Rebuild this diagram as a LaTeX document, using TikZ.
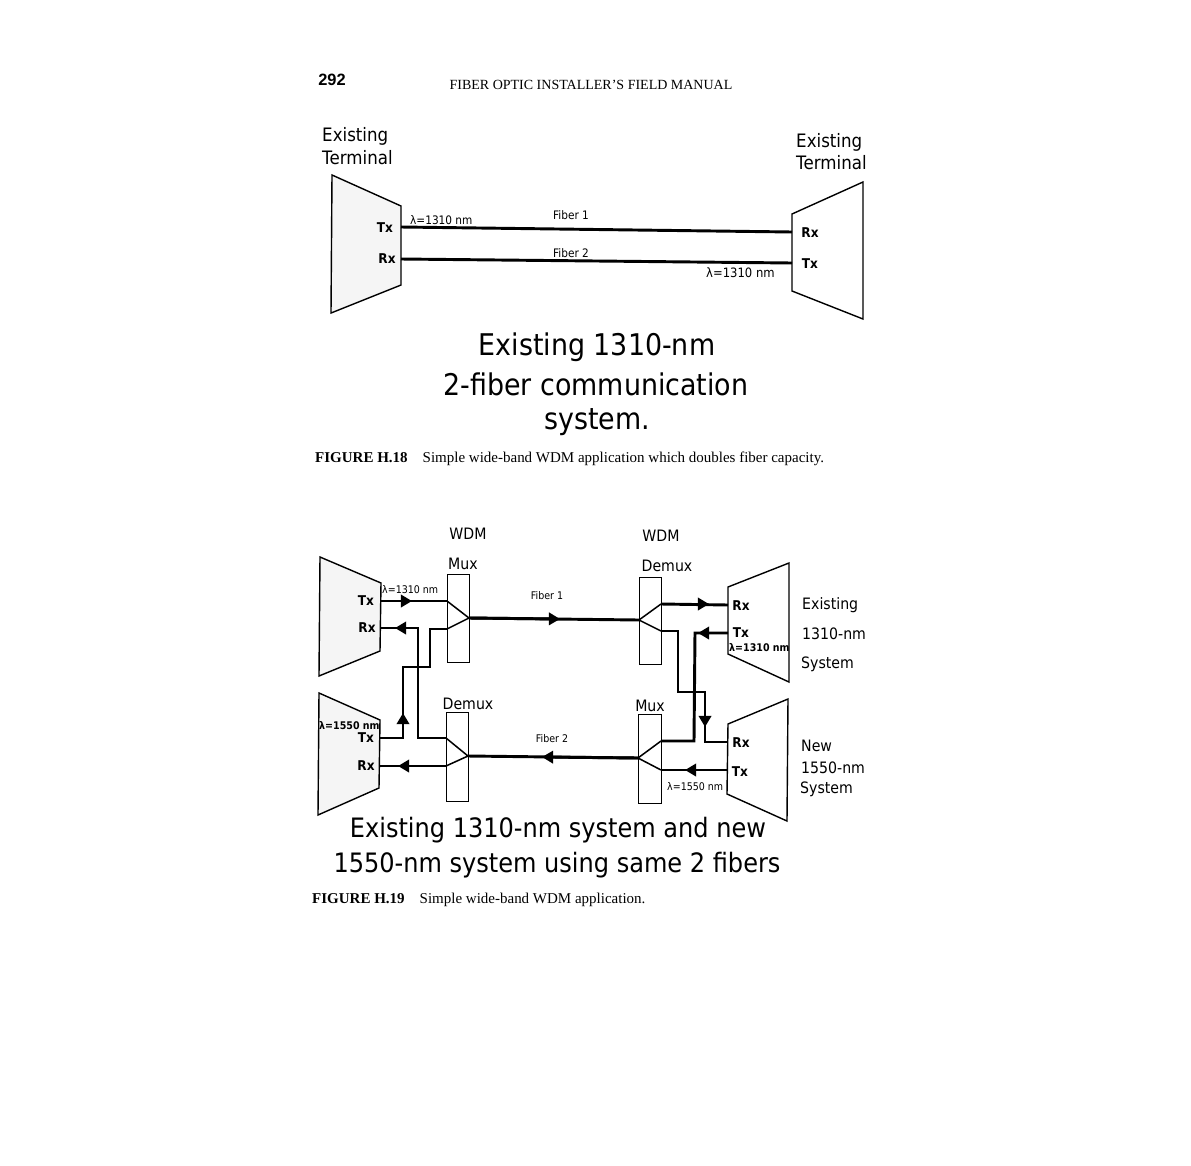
\documentclass[tikz,border=0pt]{standalone}
\usepackage{fontspec}
\setmainfont{Liberation Serif}
\newfontfamily\labelfont[FakeStretch=0.9]{DejaVu Sans}
\newfontfamily\headfont{Liberation Sans}
\usetikzlibrary{arrows.meta}
\tikzset{
  wire/.style={line width=2.5pt,line join=miter},
  thinwire/.style={line width=1.3pt},
  tipwire/.style={line width=2.5pt,-{Triangle[length=9.5pt,width=10.5pt]}},
  term/.style={draw=black,line width=1.2pt,line join=miter},
  stip/.style={term,fill=black!4},
  wdmbox/.style={draw=black,line width=0.8pt},
  bigtxt/.style={font=\labelfont\fontsize{25.5}{25.5}\selectfont,inner sep=0pt},
  lowtxt/.style={font=\labelfont\fontsize{22.8}{22.8}\selectfont,inner sep=0pt},
  medtxt/.style={font=\labelfont\fontsize{15.8}{15.8}\selectfont,inner sep=0pt},
  smltxt/.style={font=\labelfont\fontsize{13.4}{13.4}\selectfont,inner sep=0pt},
  lamtxt/.style={font=\labelfont\fontsize{9}{9}\selectfont,inner sep=0pt},
  boldtxt/.style={font=\labelfont\bfseries\fontsize{11.5}{11.5}\selectfont,inner sep=0pt},
  lamb/.style={font=\labelfont\bfseries\fontsize{9}{9}\selectfont,inner sep=0pt},
  captxt/.style={font=\fontsize{12.8}{12.8}\selectfont,inner sep=0pt,anchor=west},
}
\begin{document}
\begin{tikzpicture}[x=0.03cm,y=-0.03cm]
  \useasboundingbox (0,0) rectangle (1191,1166);
  \fill[white] (0,0) rectangle (1191,1166);
  % page head
  \node[inner sep=0pt,font=\headfont\bfseries\fontsize{14}{14}\selectfont] (pageno) at (332,80) {292};
  \node[inner sep=0pt,font=\fontsize{11.95}{11.95}\selectfont] (pagehead) at (591,85) {FIBER OPTIC INSTALLER'S FIELD MANUAL};

  % upper figure, terminals
  \draw[stip] (332,175) -- (401,206) -- (401,285) -- (331,313) -- cycle;
  \draw[term] (863,182) -- (792,214) -- (792,291) -- (863,319) -- cycle;
  \coordinate (txL) at (401,227);
  \coordinate (rxL) at (401,259);
  \coordinate (rxR) at (792,232);
  \coordinate (txR) at (792,263);
  \draw[wire] (txL) -- (rxR);
  \draw[wire] (rxL) -- (txR);
  \node[medtxt,anchor=west] (existL) at (322,136) {Existing};
  \node[medtxt,anchor=west] (termL) at (322,158) {Terminal};
  \node[medtxt,anchor=west] (existR) at (796,142) {Existing};
  \node[medtxt,anchor=west] (termR) at (796,163) {Terminal};
  \node[boldtxt] (txtxL) at (385,228) {Tx};
  \node[boldtxt] (txrxL) at (387,259) {Rx};
  \node[boldtxt] (txrxR) at (810,233) {Rx};
  \node[boldtxt] (txtxR) at (810,264) {Tx};
  \node[lamtxt,anchor=west,font=\labelfont\fontsize{10}{10}\selectfont] (lamA) at (410,220) {λ=1310 nm};
  \node[lamtxt,anchor=west,font=\labelfont\fontsize{11}{11}\selectfont] (lamB) at (706,273) {λ=1310 nm};
  \node[lamtxt,font=\labelfont\fontsize{10}{10}\selectfont] (fibA) at (571,215) {Fiber 1};
  \node[lamtxt,font=\labelfont\fontsize{10}{10}\selectfont] (fibB) at (571,253) {Fiber 2};
  \node[bigtxt] (titleA) at (597,347) {Existing 1310-nm};
  \node[bigtxt] (titleB) at (596,384) {2-fiber communication};
  \node[bigtxt] (titleC) at (597,422) {system.};
  \node[captxt] (capA) at (315,459) {\textbf{FIGURE H.18}\hspace{1em}Simple wide-band WDM application which doubles fiber capacity.};

  % lower figure, terminals
  \draw[stip] (320,557) -- (381,583) -- (380,651) -- (319,676) -- cycle;
  \draw[stip] (319,693) -- (380,720) -- (379,788) -- (318,815) -- cycle;
  \draw[term] (789,563) -- (728,587) -- (728,654) -- (789,682) -- cycle;
  \draw[term] (788,699) -- (728,724) -- (727,794) -- (787,821) -- cycle;
  % WDM boxes
  \draw[wdmbox] (447,574) rectangle (469,662);
  \draw[wdmbox] (446,712) rectangle (468,801);
  \draw[wdmbox] (639,577) rectangle (661,664);
  \draw[wdmbox] (638,714) rectangle (661,803);

  % ports
  \coordinate (muxIa) at (447,601);
  \coordinate (muxIb) at (447,629);
  \coordinate (muxO) at (469,618);
  \coordinate (dmxIa) at (446,738);
  \coordinate (dmxIb) at (446,766);
  \coordinate (dmxO) at (468,756);
  \coordinate (rdmxO) at (639,620);
  \coordinate (rdmxIa) at (661,604);
  \coordinate (rdmxIb) at (661,631);
  \coordinate (rmuxO) at (638,758);
  \coordinate (rmuxIa) at (661,741);
  \coordinate (rmuxIb) at (661,770);
  \coordinate (txA) at (381,601);
  \coordinate (rxA) at (381,628);
  \coordinate (txB) at (380,738);
  \coordinate (rxB) at (380,766);
  \coordinate (rxC) at (728,605);
  \coordinate (txC) at (728,633);
  \coordinate (rxD) at (728,742);
  \coordinate (txD) at (727,770);
  % arrow tips
  \coordinate (tipA) at (412,601);
  \coordinate (tipB) at (395,628);
  \coordinate (tipC) at (403,713);
  \coordinate (tipD) at (398,766);
  \coordinate (tipE) at (560,619);
  \coordinate (tipF) at (542,757);
  \coordinate (tipG) at (709,604);
  \coordinate (tipH) at (698,633);
  \coordinate (tipI) at (705,727);
  \coordinate (tipJ) at (685,770);

  % fan lines in the boxes
  \draw[thinwire] (muxIa) -- (muxO) -- (muxIb);
  \draw[thinwire] (dmxIa) -- (dmxO) -- (dmxIb);
  \draw[thinwire] (rdmxIa) -- (rdmxO) -- (rdmxIb);
  \draw[thinwire] (rmuxIa) -- (rmuxO) -- (rmuxIb);

  % fibers
  \draw[wire] (muxO) -- (rdmxO);
  \draw[wire] (dmxO) -- (rmuxO);
  \draw[tipwire] (muxO) -- (tipE);
  \draw[tipwire] (rmuxO) -- (tipF);

  % left side wires
  \draw[wire] (txA) -- (muxIa);
  \draw[tipwire] (txA) -- (tipA);
  \draw[wire] (rxA) -- (418,628) -- (418,738) -- (dmxIa);
  \draw[tipwire] (418,628) -- (tipB);
  \draw[wire] (txB) -- (403,738) -- (403,667) -- (430,667) -- (430,629) -- (muxIb);
  \draw[tipwire] (403,738) -- (tipC);
  \draw[wire] (dmxIb) -- (rxB);
  \draw[tipwire] (dmxIb) -- (tipD);

  % right side wires
  \draw[wire] (rdmxIa) -- (rxC);
  \draw[tipwire] (rdmxIa) -- (tipG);
  \draw[wire] (rdmxIb) -- (678,631) -- (678,692) -- (705,692) -- (705,742) -- (rxD);
  \draw[tipwire] (705,692) -- (tipI);
  \draw[wire] (txC) -- (695,633) -- (694,741) -- (rmuxIa);
  \draw[tipwire] (txC) -- (tipH);
  \draw[wire] (txD) -- (rmuxIb);
  \draw[tipwire] (txD) -- (tipJ);

  % lower figure, texts
  \node[smltxt] (wdmA) at (468,534) {WDM};
  \node[smltxt] (wdmB) at (661,536) {WDM};
  \node[smltxt] (muxA) at (463,564) {Mux};
  \node[smltxt] (dmxA) at (667,566) {Demux};
  \node[smltxt] (dmxB) at (468,704) {Demux};
  \node[smltxt] (muxB) at (650,706) {Mux};
  \node[lamtxt] (fibC) at (547,596) {Fiber 1};
  \node[lamtxt] (fibD) at (552,739) {Fiber 2};
  \node[lamtxt,anchor=west] (lamC) at (382,590) {λ=1310 nm};
  \node[lamtxt,anchor=west] (lamD) at (667,787) {λ=1550 nm};
  \node[lamb,anchor=west] (lamE) at (729,648) {λ=1310 nm};
  \node[lamb,anchor=west] (lamF) at (319,726) {λ=1550 nm};
  \node[boldtxt] (txa) at (366,601) {Tx};
  \node[boldtxt] (rxa) at (367,628) {Rx};
  \node[boldtxt] (txb) at (366,738) {Tx};
  \node[boldtxt] (rxb) at (366,766) {Rx};
  \node[boldtxt] (rxc) at (741,606) {Rx};
  \node[boldtxt] (txc) at (741,633) {Tx};
  \node[boldtxt] (rxd) at (741,743) {Rx};
  \node[boldtxt] (txd) at (740,772) {Tx};
  \node[smltxt,anchor=west] (sysA) at (802,605) {Existing};
  \node[smltxt,anchor=west] (sysB) at (802,634) {1310-nm};
  \node[smltxt,anchor=west] (sysC) at (801,664) {System};
  \node[smltxt,anchor=west] (sysD) at (801,746) {New};
  \node[smltxt,anchor=west] (sysE) at (801,768) {1550-nm};
  \node[smltxt,anchor=west] (sysF) at (800,789) {System};
  \node[lowtxt] (titleD) at (558,830) {Existing 1310-nm system and new};
  \node[lowtxt] (titleE) at (557,865) {1550-nm system using same 2 fibers};
  \node[captxt] (capB) at (312,900) {\textbf{FIGURE H.19}\hspace{1em}Simple wide-band WDM application.};
\end{tikzpicture}
\end{document}
